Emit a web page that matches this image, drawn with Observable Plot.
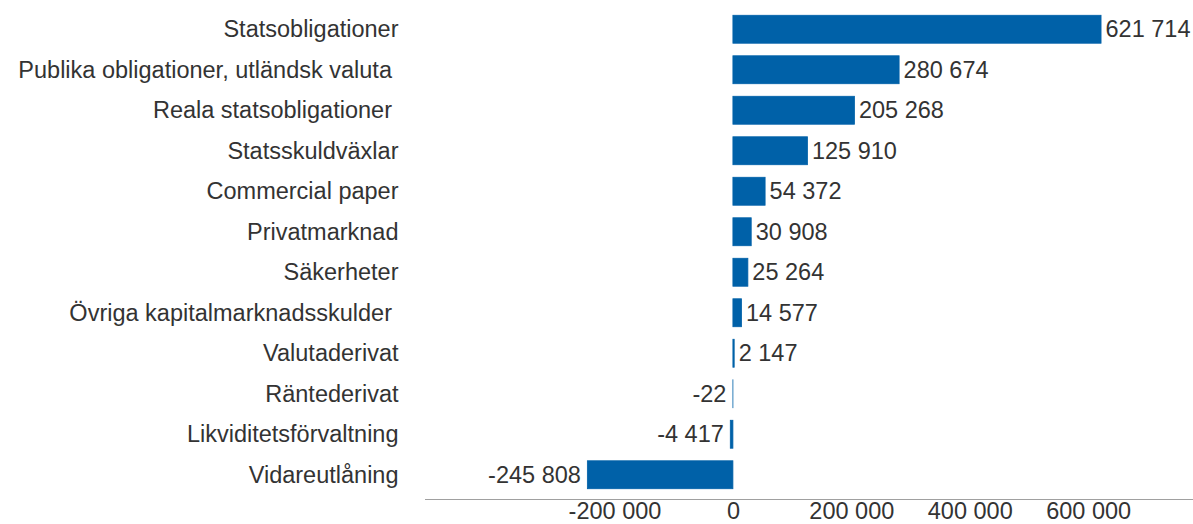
<!DOCTYPE html>
<html>
<head>
<meta charset="utf-8">
<script src="https://cdn.jsdelivr.net/npm/d3@7"></script>
<script src="https://cdn.jsdelivr.net/npm/@observablehq/plot@0.6"></script>
<style>
  html, body { margin: 0; padding: 0; background: #fff; }
  #chart svg text { white-space: pre; }
</style>
</head>
<body>
<div id="chart"></div>
<script>
const categories = [
  "Statsobligationer",
  "Publika obligationer, utländsk valuta ",
  "Reala statsobligationer ",
  "Statsskuldväxlar",
  "Commercial paper",
  "Privatmarknad",
  "Säkerheter",
  "Övriga kapitalmarknadsskulder ",
  "Valutaderivat",
  "Räntederivat",
  "Likviditetsförvaltning",
  "Vidareutlåning"
];
const values = [621714, 280674, 205268, 125910, 54372, 30908, 25264, 14577, 2147, -22, -4417, -245808];
const xTicks = [-200000, 0, 200000, 400000, 600000];

const data = categories.map((c, i) => ({category: c, value: values[i]}));
const fmt = v => (v < 0 ? "-" : "") + d3.format(",")(Math.abs(v)).replace(/,/g, " ");
const barColor = "#0061a8";
const textColor = "#333333";

const chart = Plot.plot({
  width: 1193,
  height: 524,
  marginLeft: 425,
  marginRight: 0,
  marginTop: 9,
  marginBottom: 29,
  style: {fontFamily: "Liberation Sans, Arial, sans-serif", fontSize: "23.5px", color: textColor, background: "#fff"},
  x: {domain: [-520000, 777000]},
  y: {domain: categories, paddingInner: 0.31, paddingOuter: 0.155, round: false},
  marks: [
    Plot.frame({anchor: "bottom", stroke: "#a0a0a0", strokeDasharray: "1,1", dy: 4}),
    Plot.barX(data, {y: "category", x1: 0, x2: "value", fill: barColor, stroke: barColor, strokeWidth: 0.8}),
    Plot.text(data.filter(d => d.value >= 0), {y: "category", x: "value", text: d => fmt(d.value), textAnchor: "start", dx: 4, fill: textColor}),
    Plot.text(data.filter(d => d.value < 0), {y: "category", x: "value", text: d => fmt(d.value), textAnchor: "end", dx: -7, fill: textColor}),
    Plot.axisY({tickSize: 0, tickPadding: 27, label: null, fill: textColor}),
    Plot.axisX({ticks: xTicks, tickSize: 0, tickPadding: 7, tickFormat: fmt, label: null, fill: textColor})
  ]
});
document.getElementById("chart").appendChild(chart);
</script>
</body>
</html>
